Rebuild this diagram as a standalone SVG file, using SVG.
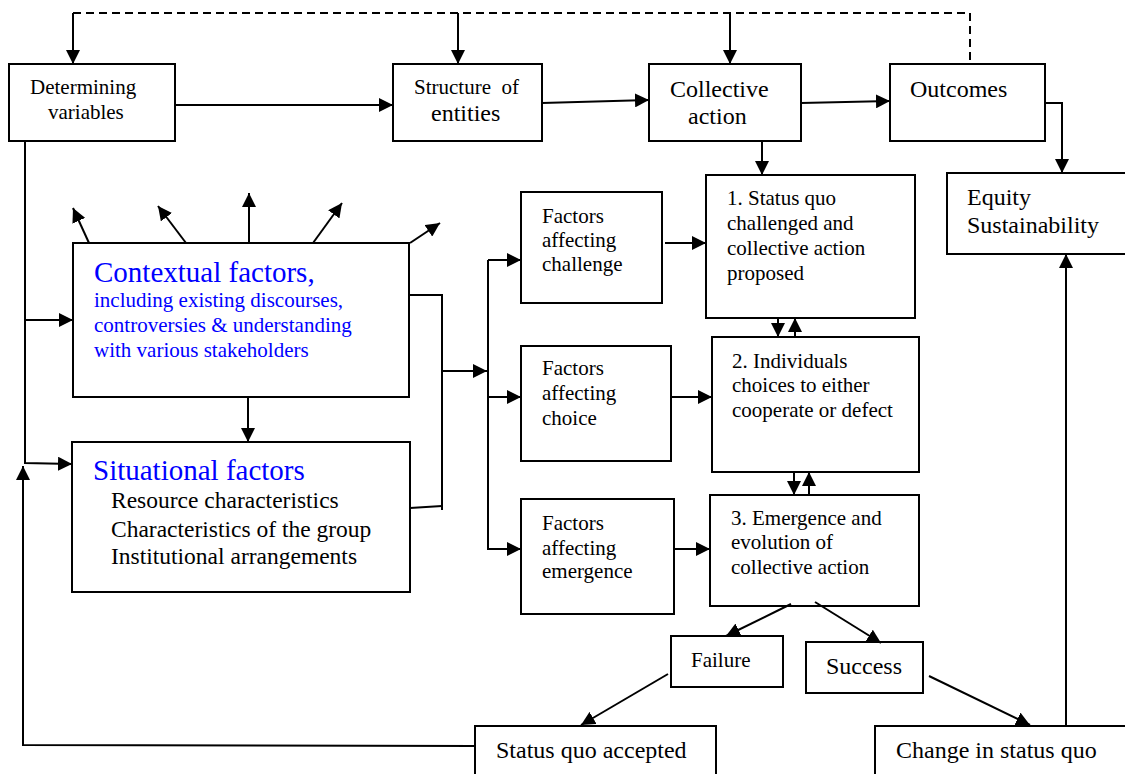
<svg xmlns="http://www.w3.org/2000/svg" width="1125" height="774" viewBox="0 0 1125 774">
<defs>
<style>
.box{fill:#fff;stroke:#000;stroke-width:2}
.t{font-family:"Liberation Serif","Times New Roman",serif;fill:#000}
.s{font-size:21px}
.m{font-size:24px}
.b{font-size:29px;fill:#0000ff}
.blue{fill:#0000ff}
.ln{fill:none;stroke:#000;stroke-width:2}
.dash{fill:none;stroke:#000;stroke-width:2;stroke-dasharray:8,5}
</style>
<marker id="ah" markerWidth="14" markerHeight="14" refX="14" refY="7" orient="auto" markerUnits="userSpaceOnUse"><path d="M0,0 L14,7 L0,14 z" fill="#000"/></marker>
</defs>
<rect width="1125" height="774" fill="#fff"/>
<g id="n-determining"><rect class="box" x="9" y="64" width="166" height="77"/><text class="t s" x="30" y="94">Determining</text><text class="t s" x="48" y="119">variables</text></g>
<g id="n-structure"><rect class="box" x="393" y="64" width="149" height="77"/><text class="t s" x="414" y="94" xml:space="preserve">Structure  of</text><text class="t m" x="431" y="121">entities</text></g>
<g id="n-collective"><rect class="box" x="649" y="64" width="152" height="77"/><text class="t m" x="670" y="97">Collective</text><text class="t m" x="688" y="124">action</text></g>
<g id="n-outcomes"><rect class="box" x="890" y="64" width="155" height="77"/><text class="t m" x="910" y="97">Outcomes</text></g>
<g id="n-equity"><rect class="box" x="947" y="173" width="190" height="81"/><text class="t m" x="967" y="205">Equity</text><text class="t m" x="967" y="233">Sustainability</text></g>
<g id="n-contextual"><rect class="box" x="73" y="243" width="336" height="154"/><text class="t b" x="94" y="282">Contextual factors,</text><text class="t s blue" x="94" y="307">including existing discourses,</text><text class="t s blue" x="94" y="332">controversies &amp; understanding</text><text class="t s blue" x="94" y="357">with various stakeholders</text></g>
<g id="n-situational"><rect class="box" x="72" y="442" width="338" height="150"/><text class="t b" x="93" y="480">Situational factors</text><text class="t" style="font-size:23.5px" x="111" y="508">Resource characteristics</text><text class="t" style="font-size:23.5px" x="111" y="537">Characteristics of the group</text><text class="t" style="font-size:23.5px" x="111" y="564">Institutional arrangements</text></g>
<g id="n-f-challenge"><rect class="box" x="521" y="192" width="141" height="111"/><text class="t s" x="542" y="223">Factors</text><text class="t s" x="542" y="247">affecting</text><text class="t s" x="542" y="271">challenge</text></g>
<g id="n-f-choice"><rect class="box" x="521" y="346" width="150" height="115"/><text class="t s" x="542" y="375">Factors</text><text class="t s" x="542" y="400">affecting</text><text class="t s" x="542" y="425">choice</text></g>
<g id="n-f-emergence"><rect class="box" x="521" y="499" width="153" height="115"/><text class="t s" x="542" y="530">Factors</text><text class="t s" x="542" y="555">affecting</text><text class="t s" x="542" y="578">emergence</text></g>
<g id="n-step1"><rect class="box" x="706" y="175" width="209" height="143"/><text class="t s" x="727" y="205">1. Status quo</text><text class="t s" x="727" y="230">challenged and</text><text class="t s" x="727" y="255">collective action</text><text class="t s" x="727" y="280">proposed</text></g>
<g id="n-step2"><rect class="box" x="712" y="337" width="207" height="135"/><text class="t s" x="732" y="368">2. Individuals</text><text class="t s" x="732" y="392">choices to either</text><text class="t s" x="732" y="417">cooperate or defect</text></g>
<g id="n-step3"><rect class="box" x="710" y="495" width="209" height="111"/><text class="t s" x="731" y="525">3. Emergence and</text><text class="t s" x="731" y="549">evolution of</text><text class="t s" x="731" y="574">collective action</text></g>
<g id="n-failure"><rect class="box" x="671" y="636" width="112" height="51"/><text class="t s" x="691" y="667">Failure</text></g>
<g id="n-success"><rect class="box" x="806" y="642" width="117" height="51"/><text class="t m" x="826" y="674">Success</text></g>
<g id="n-accepted"><rect class="box" x="475" y="726" width="241" height="60"/><text class="t m" x="496" y="758">Status quo accepted</text></g>
<g id="n-change"><rect class="box" x="875" y="726" width="262" height="60"/><text class="t m" x="896" y="758">Change in status quo</text></g>
<g id="connectors">
<path class="dash" d="M73,13 H970 V64"/>
<path class="ln" d="M73,13 V64" marker-end="url(#ah)"/>
<path class="ln" d="M458,13 V64" marker-end="url(#ah)"/>
<path class="ln" d="M730,13 V64" marker-end="url(#ah)"/>
<path class="ln" d="M175,105 H393" marker-end="url(#ah)"/>
<path class="ln" d="M542,103 L649,100" marker-end="url(#ah)"/>
<path class="ln" d="M801,103 L890,101" marker-end="url(#ah)"/>
<path class="ln" d="M1045,103 H1062 V173" marker-end="url(#ah)"/>
<path class="ln" d="M762,141 V175" marker-end="url(#ah)"/>
<path class="ln" d="M25,141 V463 L72,464" marker-end="url(#ah)"/>
<path class="ln" d="M25,320 H73" marker-end="url(#ah)"/>
<path class="ln" d="M475,746 L23,745 V466" marker-end="url(#ah)"/>
<path class="ln" d="M89,243 L73,208" marker-end="url(#ah)"/>
<path class="ln" d="M186,243 L158,206" marker-end="url(#ah)"/>
<path class="ln" d="M249,243 V193" marker-end="url(#ah)"/>
<path class="ln" d="M313,243 L342,203" marker-end="url(#ah)"/>
<path class="ln" d="M410,243 L440,223" marker-end="url(#ah)"/>
<path class="ln" d="M248,397 V442" marker-end="url(#ah)"/>
<path class="ln" d="M409,295 H442 V510"/>
<path class="ln" d="M410,508 L442,506"/>
<path class="ln" d="M442,371 H487" marker-end="url(#ah)"/>
<path class="ln" d="M488,260 V550"/>
<path class="ln" d="M488,260 H521" marker-end="url(#ah)"/>
<path class="ln" d="M488,397 H521" marker-end="url(#ah)"/>
<path class="ln" d="M488,549 H521" marker-end="url(#ah)"/>
<path class="ln" d="M665,243 H706" marker-end="url(#ah)"/>
<path class="ln" d="M672,397 H712" marker-end="url(#ah)"/>
<path class="ln" d="M674,549 H710" marker-end="url(#ah)"/>
<path class="ln" d="M778,318 V337" marker-end="url(#ah)"/>
<path class="ln" d="M795,337 V318" marker-end="url(#ah)"/>
<path class="ln" d="M794,472 V495" marker-end="url(#ah)"/>
<path class="ln" d="M809,495 V472" marker-end="url(#ah)"/>
<path class="ln" d="M791,604 L726,636" marker-end="url(#ah)"/>
<path class="ln" d="M815,602 L881,643" marker-end="url(#ah)"/>
<path class="ln" d="M668,674 L581,725" marker-end="url(#ah)"/>
<path class="ln" d="M929,676 L1030,725" marker-end="url(#ah)"/>
<path class="ln" d="M1066,726 V254" marker-end="url(#ah)"/>
</g>
</svg>
